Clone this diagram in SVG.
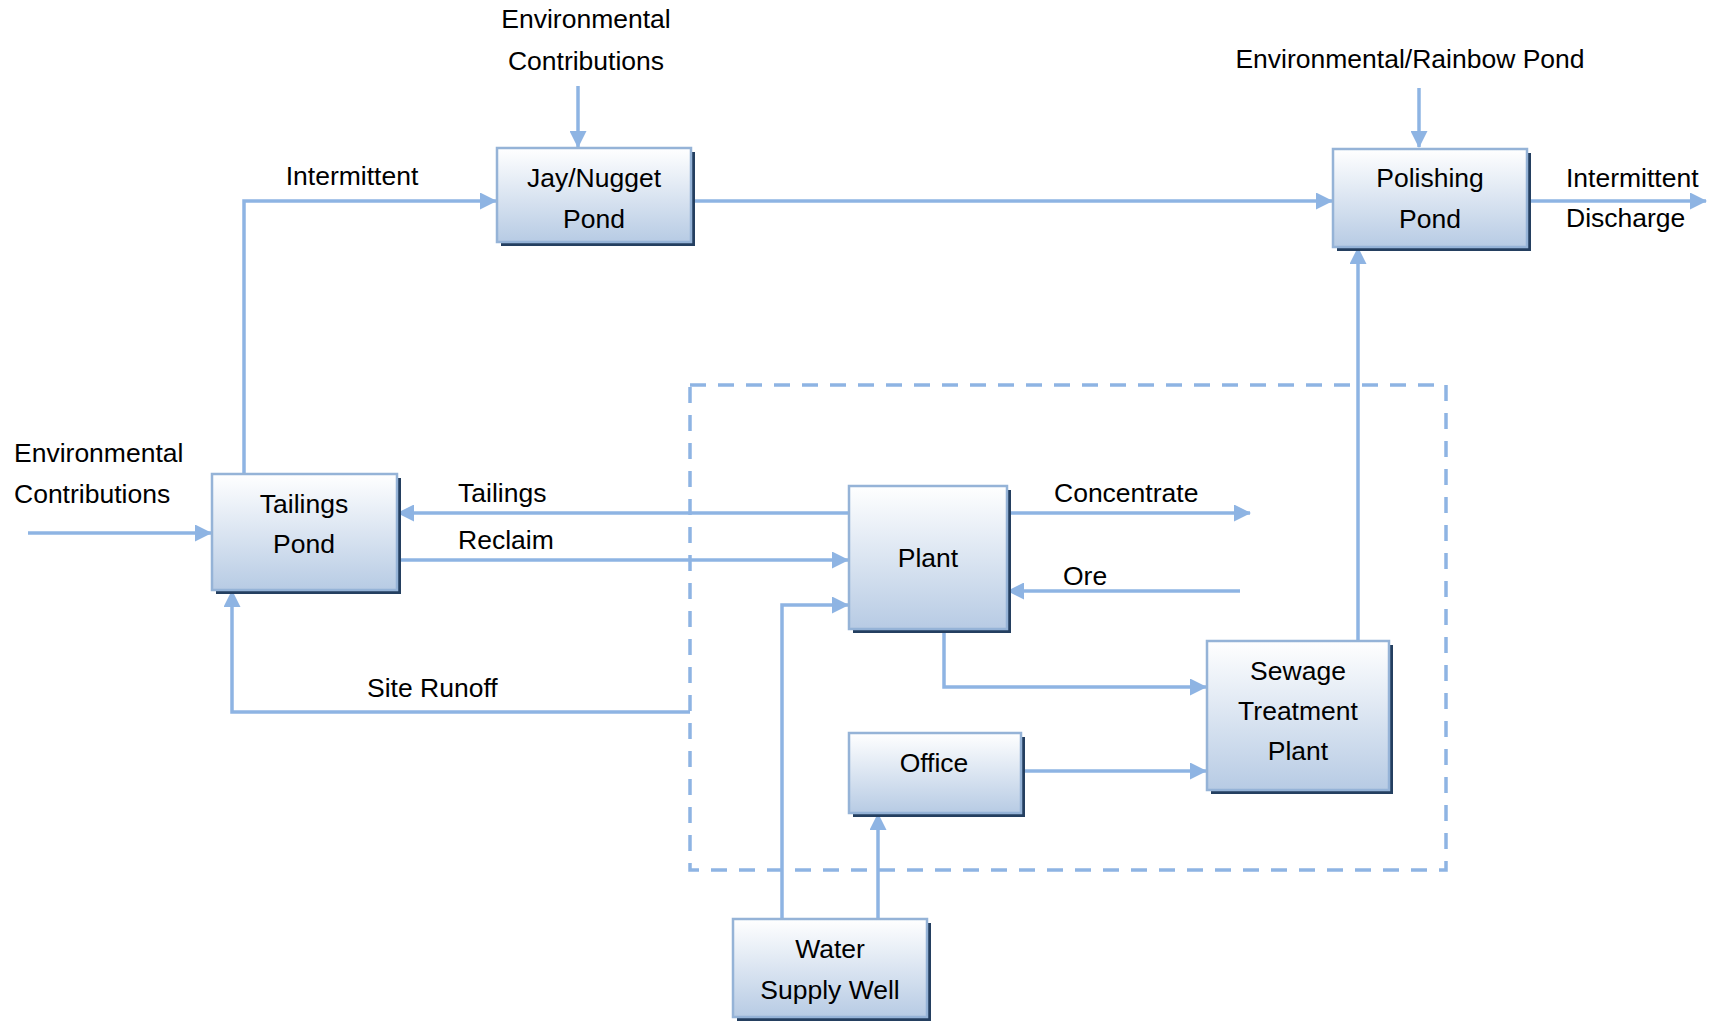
<svg xmlns="http://www.w3.org/2000/svg" width="1730" height="1021" viewBox="0 0 1730 1021">
  <defs>
    <linearGradient id="boxFill" x1="0" y1="0" x2="0" y2="1">
      <stop offset="0" stop-color="#FFFFFF"/>
      <stop offset="1" stop-color="#B7CBE4"/>
    </linearGradient>
    <marker id="arrow" markerUnits="userSpaceOnUse" markerWidth="17" markerHeight="17" viewBox="0 0 17 17" refX="16" refY="8.5" orient="auto">
      <path d="M0,0 L17,8.5 L0,17 Z" fill="#8EB4E3"/>
    </marker>
    <style>
      .box { fill: url(#boxFill); stroke: #95B3D7; stroke-width: 2.5; }
      .shadow { fill: #243F60; }
      .lbl { font-family: "Liberation Sans", Arial, sans-serif; font-size: 26.5px; fill: #000; }
      .mid { text-anchor: middle; }
      .flow { fill: none; stroke: #8EB4E3; stroke-width: 3.5; }
      .arr { marker-end: url(#arrow); }
      .zone { fill: none; stroke: #8EB4E3; stroke-width: 3.5; stroke-dasharray: 16 12; }
    </style>
  </defs>

  <rect width="1730" height="1021" fill="#FFFFFF"/>

  <!-- site boundary -->
  <rect class="zone" x="690" y="385" width="756" height="485"/>

  <!-- connectors -->
  <g id="connectors">
    <path class="flow arr" d="M578,86 V147"/>
    <path class="flow arr" d="M1419,88 V147"/>
    <path class="flow arr" d="M244,474 V201 H496"/>
    <path class="flow arr" d="M691,201 H1332"/>
    <path class="flow arr" d="M1527,201 H1706"/>
    <path class="flow arr" d="M28,533 H211"/>
    <path class="flow arr" d="M849,513 H398"/>
    <path class="flow arr" d="M397,560 H848"/>
    <path class="flow arr" d="M1007,513 H1250"/>
    <path class="flow arr" d="M1240,591 H1008"/>
    <path class="flow arr" d="M944,629 V687 H1206"/>
    <path class="flow arr" d="M1021,771 H1206"/>
    <path class="flow arr" d="M1358,641 V248"/>
    <path class="flow arr" d="M690,712 H232 V591"/>
    <path class="flow arr" d="M782,918 V605 H848"/>
    <path class="flow arr" d="M878,918 V814"/>
  </g>

  <!-- free labels -->
  <g id="labels">
    <text class="lbl mid" x="586" y="28">Environmental</text>
    <text class="lbl mid" x="586" y="70">Contributions</text>
    <text class="lbl mid" x="1410" y="68">Environmental/Rainbow Pond</text>
    <text class="lbl mid" x="352" y="185">Intermittent</text>
    <text class="lbl" x="1566" y="187">Intermittent</text>
    <text class="lbl" x="1566" y="227">Discharge</text>
    <text class="lbl" x="14" y="462">Environmental</text>
    <text class="lbl" x="14" y="503">Contributions</text>
    <text class="lbl" x="458" y="502">Tailings</text>
    <text class="lbl" x="458" y="549">Reclaim</text>
    <text class="lbl" x="1054" y="502">Concentrate</text>
    <text class="lbl" x="1063" y="585">Ore</text>
    <text class="lbl" x="367" y="697">Site Runoff</text>
  </g>

  <!-- nodes -->
  <g id="jay-nugget-pond">
    <rect class="shadow" x="501" y="152" width="194" height="94"/>
    <rect class="box" x="497" y="148" width="194" height="94"/>
    <text class="lbl mid" x="594" y="187">Jay/Nugget</text>
    <text class="lbl mid" x="594" y="228">Pond</text>
  </g>

  <g id="polishing-pond">
    <rect class="shadow" x="1337" y="153" width="194" height="98"/>
    <rect class="box" x="1333" y="149" width="194" height="98"/>
    <text class="lbl mid" x="1430" y="187">Polishing</text>
    <text class="lbl mid" x="1430" y="228">Pond</text>
  </g>

  <g id="tailings-pond">
    <rect class="shadow" x="216" y="478" width="185" height="116"/>
    <rect class="box" x="212" y="474" width="185" height="116"/>
    <text class="lbl mid" x="304" y="513">Tailings</text>
    <text class="lbl mid" x="304" y="553">Pond</text>
  </g>

  <g id="plant">
    <rect class="shadow" x="853" y="490" width="158" height="143"/>
    <rect class="box" x="849" y="486" width="158" height="143"/>
    <text class="lbl mid" x="928" y="567">Plant</text>
  </g>

  <g id="sewage-treatment-plant">
    <rect class="shadow" x="1211" y="645" width="182" height="149"/>
    <rect class="box" x="1207" y="641" width="182" height="149"/>
    <text class="lbl mid" x="1298" y="680">Sewage</text>
    <text class="lbl mid" x="1298" y="720">Treatment</text>
    <text class="lbl mid" x="1298" y="760">Plant</text>
  </g>

  <g id="office">
    <rect class="shadow" x="853" y="737" width="172" height="80"/>
    <rect class="box" x="849" y="733" width="172" height="80"/>
    <text class="lbl mid" x="934" y="772">Office</text>
  </g>

  <g id="water-supply-well">
    <rect class="shadow" x="737" y="923" width="194" height="98"/>
    <rect class="box" x="733" y="919" width="194" height="98"/>
    <text class="lbl mid" x="830" y="958">Water</text>
    <text class="lbl mid" x="830" y="999">Supply Well</text>
  </g>
</svg>
